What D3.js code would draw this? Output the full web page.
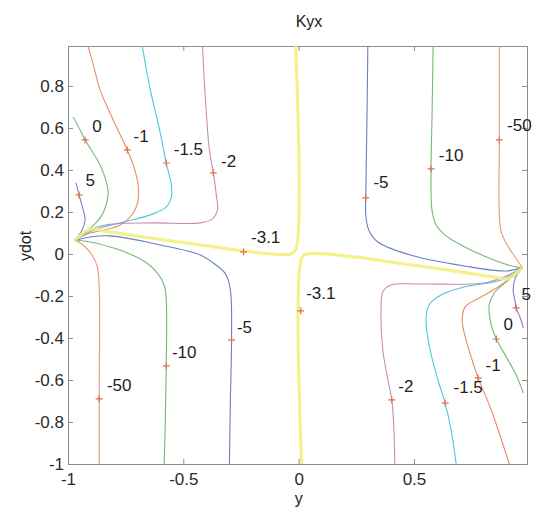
<!DOCTYPE html>
<html>
<head>
<meta charset="utf-8">
<script src="https://cdn.jsdelivr.net/npm/d3@7"></script>
<style>
  body { margin: 0; background: #fff; }
  text { font-family: "Liberation Sans", Arial, Helvetica, sans-serif; }
</style>
</head>
<body>
<svg id="chart" width="533" height="510"></svg>
<script>
// ---- data: contour lines of Kyx over (y, ydot) ----
const xTicks = [-1, -0.5, 0, 0.5];
const yTicks = [-1, -0.8, -0.6, -0.4, -0.2, 0, 0.2, 0.4, 0.6, 0.8];
const levels = [5, 0, -1, -1.5, -2, -3.1, -5, -10, -50];

// left-hand family (meets near y = -0.97, ydot = 0.065)
const c5Left = [[-0.965,0.338],[-0.952,0.281],[-0.935,0.214],[-0.926,0.162],[-0.939,0.114],[-0.97,0.065]];
const c0Left = [[-0.978,0.652],[-0.952,0.600],[-0.926,0.543],[-0.891,0.481],[-0.861,0.424],[-0.839,0.362],[-0.826,0.295],[-0.835,0.233],[-0.852,0.186],[-0.883,0.143],[-0.926,0.105],[-0.97,0.065]];
const cm1Left = [[-0.913,0.99],[-0.887,0.886],[-0.861,0.781],[-0.804,0.638],[-0.743,0.495],[-0.713,0.410],[-0.696,0.329],[-0.696,0.257],[-0.717,0.195],[-0.774,0.138],[-0.861,0.110],[-0.917,0.095],[-0.97,0.065]];
const cm15Left = [[-0.678,0.99],[-0.643,0.781],[-0.600,0.576],[-0.574,0.433],[-0.552,0.329],[-0.552,0.271],[-0.574,0.224],[-0.643,0.186],[-0.761,0.152],[-0.861,0.124],[-0.917,0.100],[-0.97,0.065]];
const cm2Left = [[-0.417,0.99],[-0.404,0.733],[-0.387,0.495],[-0.370,0.386],[-0.357,0.281],[-0.352,0.210],[-0.374,0.167],[-0.426,0.148],[-0.643,0.148],[-0.839,0.138],[-0.904,0.114],[-0.97,0.065]];
const cm31Upper = [[-0.97,0.065],[-0.904,0.119],[-0.848,0.110],[-0.643,0.076],[-0.426,0.043],[-0.239,0.014],[-0.035,0.0],[-0.013,0.019],[-0.013,0.99]];
const cm5Left = [[-0.97,0.065],[-0.904,0.081],[-0.817,0.086],[-0.600,0.043],[-0.426,-0.005],[-0.370,-0.043],[-0.317,-0.095],[-0.296,-0.171],[-0.291,-0.410],[-0.296,-0.695],[-0.300,-1]];
const cm10Left = [[-0.97,0.065],[-0.904,0.057],[-0.817,0.033],[-0.743,0.005],[-0.665,-0.038],[-0.613,-0.090],[-0.583,-0.148],[-0.574,-0.219],[-0.574,-0.533],[-0.578,-0.790],[-0.583,-1]];
const cm50Left = [[-0.97,0.065],[-0.930,0.038],[-0.896,-0.005],[-0.874,-0.057],[-0.865,-0.148],[-0.865,-0.695],[-0.865,-1]];

// right-hand family (meets near y = 0.97, ydot = -0.065)
const cm5Right = [[0.300,0.99],[0.296,0.638],[0.291,0.267],[0.291,0.186],[0.304,0.114],[0.343,0.057],[0.5,-0.010],[0.717,-0.057],[0.9,-0.081],[0.97,-0.065]];
const cm10Right = [[0.583,0.99],[0.578,0.638],[0.574,0.405],[0.578,0.210],[0.596,0.138],[0.639,0.086],[0.704,0.043],[0.804,-0.010],[0.922,-0.057],[0.97,-0.065]];
const cm50Right = [[0.870,0.99],[0.870,0.543],[0.870,0.186],[0.878,0.105],[0.904,0.043],[0.935,-0.010],[0.97,-0.065]];
const cm31Lower = [[0.97,-0.065],[0.904,-0.119],[0.848,-0.110],[0.643,-0.076],[0.426,-0.043],[0.239,-0.014],[0.035,0.0],[0.013,-0.019],[0.013,-1]];
const cm2Right = [[0.97,-0.065],[0.9,-0.105],[0.804,-0.138],[0.530,-0.143],[0.4,-0.148],[0.365,-0.181],[0.357,-0.267],[0.365,-0.457],[0.387,-0.600],[0.404,-0.695],[0.413,-0.838],[0.417,-1]];
const cm15Right = [[0.97,-0.065],[0.878,-0.124],[0.717,-0.157],[0.617,-0.195],[0.565,-0.243],[0.552,-0.314],[0.570,-0.457],[0.604,-0.600],[0.635,-0.710],[0.661,-0.838],[0.683,-1]];
const cm1Right = [[0.97,-0.065],[0.878,-0.148],[0.791,-0.205],[0.722,-0.252],[0.709,-0.314],[0.726,-0.410],[0.752,-0.505],[0.778,-0.590],[0.835,-0.743],[0.913,-1]];
const c0Right = [[0.97,-0.065],[0.9,-0.133],[0.848,-0.186],[0.826,-0.243],[0.835,-0.338],[0.857,-0.405],[0.9,-0.490],[0.943,-0.576],[0.974,-0.662]];
const c5Right = [[0.97,-0.065],[0.939,-0.114],[0.930,-0.171],[0.939,-0.229],[0.943,-0.257],[0.961,-0.305],[0.974,-0.352]];

// contour label values, '+' marker points and text anchors
const labelLevels  = [5, 0, -1, -1.5, -2, -3.1, -3.1, -5, -10, -50, -5, -10, -50, -2, -1.5, -1, 0, 5];
const labelMarkers = [[-0.952,0.281],[-0.926,0.543],[-0.743,0.495],[-0.574,0.433],[-0.370,0.386],[-0.239,0.010],[0.009,-0.271],[-0.291,-0.410],[-0.574,-0.533],[-0.865,-0.690],[0.291,0.267],[0.574,0.405],[0.870,0.543],[0.404,-0.695],[0.635,-0.710],[0.778,-0.590],[0.857,-0.405],[0.943,-0.257]];
const labelAnchors = [[-0.904,0.348],[-0.874,0.605],[-0.683,0.557],[-0.478,0.495],[-0.304,0.438],[-0.143,0.076],[0.096,-0.190],[-0.235,-0.348],[-0.496,-0.467],[-0.778,-0.624],[0.357,0.338],[0.661,0.471],[0.957,0.610],[0.465,-0.633],[0.735,-0.638],[0.843,-0.529],[0.909,-0.338],[0.987,-0.195]];

const contourLines = [
  {level: 5, pts: c5Left}, {level: 0, pts: c0Left}, {level: -1, pts: cm1Left},
  {level: -1.5, pts: cm15Left}, {level: -2, pts: cm2Left},
  {level: -5, pts: cm5Left}, {level: -10, pts: cm10Left}, {level: -50, pts: cm50Left},
  {level: -5, pts: cm5Right}, {level: -10, pts: cm10Right}, {level: -50, pts: cm50Right},
  {level: -2, pts: cm2Right}, {level: -1.5, pts: cm15Right}, {level: -1, pts: cm1Right},
  {level: 0, pts: c0Right}, {level: 5, pts: c5Right},
  {level: -3.1, pts: cm31Upper}, {level: -3.1, pts: cm31Lower}
];

// ---- styling ----
const levelColor = d3.scaleOrdinal()
  .domain(levels)
  .range(["#8a70c4", "#74b474", "#e8865e", "#46c2da", "#c884b2", "#f3ef80", "#6079b8", "#70b470", "#e8946a"]);

const W = 533, H = 510;
const margin = {left: 68, right: 6, top: 46, bottom: 46};
const x = d3.scaleLinear().domain([-1, 0.99]).range([margin.left, W - margin.right]);
const y = d3.scaleLinear().domain([-1, 0.99]).range([H - margin.bottom, margin.top]);

// plain hyphen-minus, as in the original figure
const fmt = v => String(v);

const svg = d3.select("#chart");

svg.append("defs").append("clipPath").attr("id", "plotClip")
  .append("rect")
  .attr("x", x(-1)).attr("y", y(0.99))
  .attr("width", x(0.99) - x(-1)).attr("height", y(-1) - y(0.99));

// axes box and ticks
const axisColor = "#8c8c8c";
const tickFont = "17px";

const xAxis = d3.axisBottom(x).tickValues(xTicks).tickSize(-5).tickPadding(9).tickFormat(fmt);
const yAxis = d3.axisLeft(y).tickValues(yTicks).tickSize(-5).tickPadding(4).tickFormat(fmt);
const xAxisTop = d3.axisTop(x).tickValues(xTicks).tickSize(-5).tickFormat("");
const yAxisRight = d3.axisRight(y).tickValues(yTicks).tickSize(-5).tickFormat("");

function styleAxis(g) {
  g.select(".domain").attr("stroke", axisColor);
  g.selectAll(".tick line").attr("stroke", axisColor);
  g.selectAll(".tick text").attr("fill", "#2a2a2a").style("font-size", tickFont)
    .style("font-family", "'Liberation Sans', Arial, sans-serif");
}

svg.append("g").attr("transform", `translate(0,${y(-1)})`).call(xAxis).call(styleAxis);
svg.append("g").attr("transform", `translate(${x(-1)},0)`).call(yAxis).call(styleAxis);
svg.append("g").attr("transform", `translate(0,${y(0.99)})`).call(xAxisTop).call(styleAxis);
svg.append("g").attr("transform", `translate(${x(0.99)},0)`).call(yAxisRight).call(styleAxis);

// contour lines
const line = d3.line()
  .x(d => x(d[0])).y(d => y(d[1]))
  .curve(d3.curveCatmullRom.alpha(0.5));

const plot = svg.append("g").attr("clip-path", "url(#plotClip)");

plot.selectAll("path.contour")
  .data(contourLines.slice().sort((a, b) => (a.level === -3.1) - (b.level === -3.1)))
  .join("path")
  .attr("class", "contour")
  .attr("d", d => line(d.pts))
  .attr("fill", "none")
  .attr("stroke", d => levelColor(d.level))
  .attr("stroke-width", d => d.level === -3.1 ? 3.2 : 1.1)
  .attr("stroke-opacity", d => d.level === -3.1 ? 0.9 : 0.95)
  .attr("stroke-linejoin", "round");

// '+' markers at label points
const markerSize = 3.5;
const marks = svg.append("g");
labelMarkers.forEach(p => {
  const cx = x(p[0]), cy = y(p[1]);
  marks.append("path")
    .attr("d", `M${cx - markerSize},${cy}H${cx + markerSize}M${cx},${cy - markerSize}V${cy + markerSize}`)
    .attr("stroke", "#e0704a").attr("stroke-width", 1.2).attr("fill", "none");
});

// level labels
svg.append("g").selectAll("text.lvl")
  .data(labelLevels.map((v, i) => ({v, p: labelAnchors[i]})))
  .join("text")
  .attr("class", "lvl")
  .attr("x", d => x(d.p[0]))
  .attr("y", d => y(d.p[1]))
  .attr("text-anchor", "middle")
  .attr("dominant-baseline", "central")
  .attr("fill", "#1e1e1e")
  .style("font-size", "17px")
  .text(d => fmt(d.v));

// title and axis labels
svg.append("text").attr("x", 309).attr("y", 27).attr("text-anchor", "middle")
  .attr("fill", "#222").style("font-size", "16px").text("Kyx");
svg.append("text").attr("x", x(0)).attr("y", 504).attr("text-anchor", "middle")
  .attr("fill", "#222").style("font-size", "16px").text("y");
svg.append("text")
  .attr("transform", `translate(31,${y(0) - 8}) rotate(-90)`)
  .attr("text-anchor", "middle")
  .attr("fill", "#222").style("font-size", "16px").text("ydot");
</script>
</body>
</html>
